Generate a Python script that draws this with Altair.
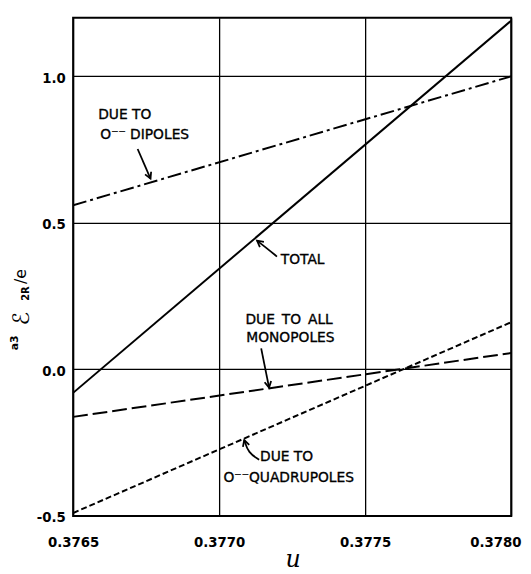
import math
import altair as alt
import pandas as pd

# ---- data ----
u_ends = [0.3765, 0.3780]
total = [-0.08, 1.19]
dipoles = [0.56, 1.00]
monopoles = [-0.162, 0.056]
quadrupoles = [-0.49, 0.161]

x_ticks = [0.3765, 0.3770, 0.3775, 0.3780]
y_ticks = [-0.5, 0.0, 0.5, 1.0]

label_text = ["DUE TO", "O\u207b\u207b DIPOLES", "TOTAL", "DUE\u2002TO\u2002ALL", "MONOPOLES",
              "DUE TO", "O\u207b\u207bQUADRUPOLES"]
label_u = [0.376586, 0.376593, 0.377211, 0.37709, 0.377093, 0.37714, 0.377015]
label_v = [0.867, 0.799, 0.372, 0.167, 0.106, -0.298, -0.372]

arrow_id = ["dip", "dip", "tot", "tot", "tot", "mono", "mono", "quad", "quad", "quad"]
arrow_u = [0.376721, 0.376765, 0.377198, 0.37716, 0.37713, 0.377144, 0.377171,
           0.377137, 0.3771, 0.377086]
arrow_v = [0.752, 0.651, 0.385, 0.416, 0.439, 0.072, -0.062, -0.308, -0.285, -0.241]

W, H = 444, 505
XDOM = [0.3765, 0.3780]
YDOM = [-0.5, 1.2]

# ---- tables ----
series = [("total", total, []), ("dipoles", dipoles, [14, 4, 3, 4]),
          ("monopoles", monopoles, [15, 5]), ("quadrupoles", quadrupoles, [6, 3])]

xs = alt.X("u:Q", scale=alt.Scale(domain=XDOM, nice=False, zero=False),
           axis=alt.Axis(values=x_ticks, format=".4f", grid=True, ticks=False, domain=False,
                         labelPadding=20, labelFlush=False, labelOverlap=False,
                         labelAlign=alt.condition("datum.value > 0.37795", alt.value("right"), alt.value("center")),
                         labelOffset=alt.condition("datum.value > 0.37795", alt.value(10), alt.value(0)),
                         title=None))
ys = alt.Y("v:Q", scale=alt.Scale(domain=YDOM, nice=False, zero=False),
           axis=alt.Axis(values=y_ticks, grid=True, ticks=False, domain=False, labelPadding=8,
                         labelExpr="replace(format(datum.value, '.1f'), '\u2212', '-')",
                         labelOffset=2, title=None))

layers = []
for name, vals, dash in series:
    df = pd.DataFrame({"u": u_ends, "v": vals})
    kw = dict(color="black", strokeWidth=2, clip=True)
    if dash:
        kw["strokeDash"] = dash
    layers.append(alt.Chart(df).mark_line(**kw).encode(x=xs, y=ys))

lab_df = pd.DataFrame({"u": label_u, "v": label_v, "t": label_text})
layers.append(alt.Chart(lab_df).mark_text(align="left", baseline="middle", font="DejaVu Sans",
                                           fontSize=14, color="black", stroke="black",
                                           strokeWidth=0.35)
              .encode(x=alt.X("u:Q"), y=alt.Y("v:Q"), text="t:N"))

arr_df = pd.DataFrame({"id": arrow_id, "u": arrow_u, "v": arrow_v, "o": list(range(len(arrow_id)))})
layers.append(alt.Chart(arr_df).mark_line(color="black", strokeWidth=1.8, interpolate="basis")
              .encode(x=alt.X("u:Q"), y=alt.Y("v:Q"), detail="id:N", order="o:Q"))

# arrow heads at the last point of each arrow
heads = []
for aid in dict.fromkeys(arrow_id):
    idx = [i for i, a in enumerate(arrow_id) if a == aid]
    i1, i2 = idx[-2], idx[-1]
    dx = (arrow_u[i2] - arrow_u[i1]) * W / (XDOM[1] - XDOM[0])
    dy = -(arrow_v[i2] - arrow_v[i1]) * H / (YDOM[1] - YDOM[0])
    ang = math.degrees(math.atan2(dx, -dy)) % 360
    heads.append({"u": arrow_u[i2], "v": arrow_v[i2], "angle": ang})
head_df = pd.DataFrame(heads)
layers.append(alt.Chart(head_df).mark_point(shape="M -0.6 1.1 L 0 0 L 0.6 1.1", filled=False,
                                            color="black", strokeWidth=1.8, size=125, opacity=1)
              .encode(x=alt.X("u:Q"), y=alt.Y("v:Q"), angle=alt.Angle("angle:Q", scale=None)))

# y-axis title pieces (rotated)
tpieces = pd.DataFrame({"t": ["a3", "\u2130", "2R", "/e"],
                        "px": [-56, -45, -45, -48], "py": [337, 312, 287, 270],
                        "fs": [11, 23, 10, 16]})
for _, r in tpieces.iterrows():
    layers.append(alt.Chart(pd.DataFrame({"t": [r.t]})).mark_text(
        align="left", baseline="alphabetic", angle=270, font="DejaVu Sans",
        fontSize=float(r.fs), color="black",
        fontWeight="bold" if r.t in ("2R", "a3") else "normal")
        .encode(x=alt.value(int(r.px)), y=alt.value(int(r.py)), text="t:N"))

layers.append(alt.Chart(pd.DataFrame({"t": ["u"]})).mark_text(
    align="center", baseline="alphabetic", font="DejaVu Serif", fontStyle="italic",
    fontSize=24, color="black")
    .encode(x=alt.value(223), y=alt.value(557), text="t:N"))

chart = alt.layer(*layers).properties(
    width=W, height=H, autosize="none",
    padding={"left": 66, "top": 6, "right": 12, "bottom": 55},
    background="white",
).configure_view(stroke="black", strokeWidth=2).configure_axis(
    gridColor="black", gridOpacity=1, gridWidth=1.3,
    labelFont="DejaVu Sans", labelFontSize=13.5, labelFontWeight="bold", labelColor="black",
)

chart.save("out.html", embed_options={"renderer": "svg", "actions": False})
